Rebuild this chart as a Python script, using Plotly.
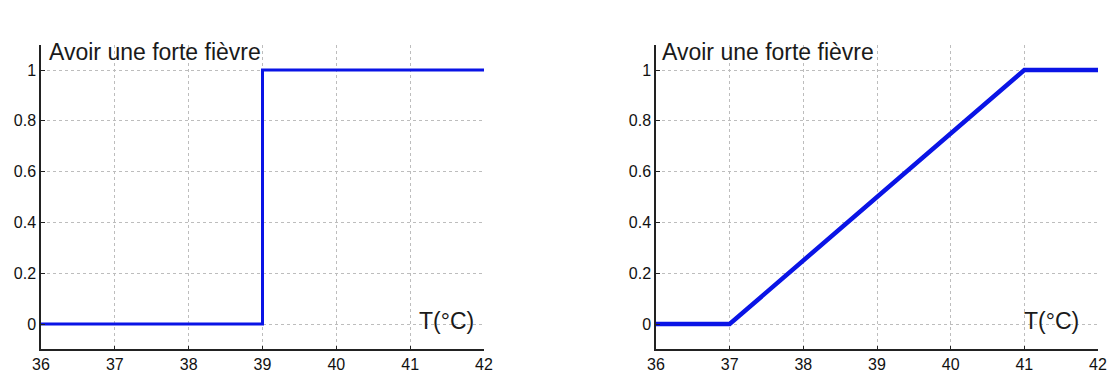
import plotly.graph_objects as go

# Membership functions for "Avoir une forte fièvre" vs temperature
temp_crisp = [36, 39, 39, 42]
deg_crisp = [0, 0, 1, 1]
temp_fuzzy = [36, 37, 41, 42]
deg_fuzzy = [0, 0, 1, 1]

x_ticks = [36, 37, 38, 39, 40, 41, 42]
y_ticks = [0, 0.2, 0.4, 0.6, 0.8, 1]
y_tick_text = ["0", "0.2", "0.4", "0.6", "0.8", "1"]
title_text = "Avoir une forte fièvre"
x_label = "T(°C)"

W, H = 1109, 372
FONT = "Liberation Sans, Arial, Helvetica, sans-serif"
BLUE = "#0a14e6"

fig = go.Figure()
fig.add_trace(go.Scatter(x=temp_crisp, y=deg_crisp, mode="lines",
                         line=dict(color=BLUE, width=3), xaxis="x", yaxis="y",
                         showlegend=False, hoverinfo="skip"))
fig.add_trace(go.Scatter(x=temp_fuzzy, y=deg_fuzzy, mode="lines",
                         line=dict(color=BLUE, width=4.5), xaxis="x2", yaxis="y2",
                         showlegend=False, hoverinfo="skip"))

def xaxis(domain, anchor):
    return dict(domain=domain, anchor=anchor, range=[36, 42], tickvals=x_ticks,
                showline=True, linecolor="#222", linewidth=1.5, mirror=False,
                ticks="inside", ticklen=4, tickcolor="#222",
                showgrid=True, gridcolor="#bdbdbd", griddash="dot", gridwidth=1,
                zeroline=False, automargin=False,
                tickfont=dict(family=FONT, size=16, color="#111"),
                fixedrange=True)

def yaxis(anchor):
    return dict(domain=[1 - 349.4 / H, 1 - 44.6 / H], anchor=anchor,
                range=[-0.1, 1.1], tickvals=y_ticks, ticktext=y_tick_text,
                showline=True, linecolor="#222", linewidth=1.5, mirror=False,
                ticks="inside", ticklen=4, tickcolor="#222",
                showgrid=True, gridcolor="#bdbdbd", griddash="dot", gridwidth=1,
                zeroline=False, automargin=False,
                tickfont=dict(family=FONT, size=16, color="#111"),
                fixedrange=True)

fig.update_layout(
    width=W, height=H,
    margin=dict(l=0, r=0, t=0, b=0, pad=0),
    paper_bgcolor="white", plot_bgcolor="white",
    xaxis=xaxis([41 / W, 484 / W], "y"),
    yaxis=yaxis("x"),
    xaxis2=xaxis([656 / W, 1098 / W], "y2"),
    yaxis2=yaxis("x2"),
)

for xr, yr, tx, lx in [("x", "y", 36.08, 41.49), ("x2", "y2", 36.06, 41.37)]:
    fig.add_annotation(x=tx, y=1.07, xref=xr, yref=yr, text=title_text,
                       showarrow=False, xanchor="left", yanchor="middle",
                       font=dict(family=FONT, size=23, color="#1a1a1a"))
    fig.add_annotation(x=lx, y=0.01, xref=xr, yref=yr, text=x_label,
                       showarrow=False, xanchor="center", yanchor="middle",
                       font=dict(family=FONT, size=23, color="#1a1a1a"))

fig.write_html("out.html")
